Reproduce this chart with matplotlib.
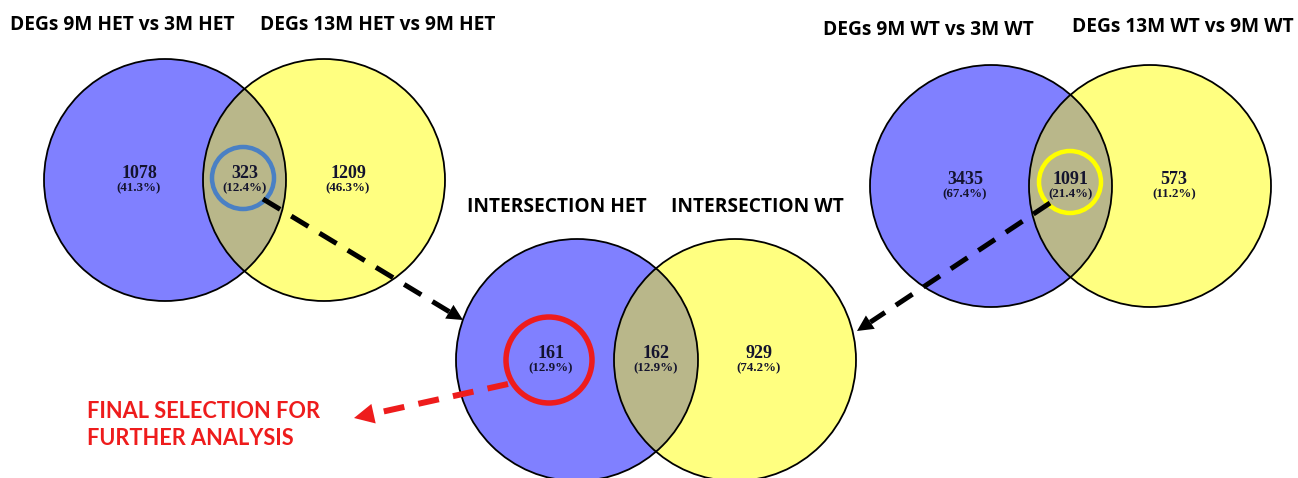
import numpy as np
import matplotlib
matplotlib.use("Agg")
import matplotlib.pyplot as plt
from matplotlib.patches import Circle, Polygon

# Venn data (counts and percentages)
het_titles = ["DEGs 9M HET vs 3M HET", "DEGs 13M HET vs 9M HET"]
het_counts = [1078, 323, 1209]
het_pcts = [41.3, 12.4, 46.3]

wt_titles = ["DEGs 9M WT vs 3M WT", "DEGs 13M WT vs 9M WT"]
wt_counts = [3435, 1091, 573]
wt_pcts = [67.4, 21.4, 11.2]

int_titles = ["INTERSECTION HET", "INTERSECTION WT"]
int_counts = [161, 162, 929]
int_pcts = [12.9, 12.9, 74.2]

final_label = "FINAL SELECTION FOR\nFURTHER ANALYSIS"

BLUE = "#8080ff"
YELLOW = "#ffff80"
OLIVE = "#b9b78a"
NUM_COLOR = "#14142e"
RED = "#ee1c1c"
PX = 0.72  # one pixel in points at dpi=100

fig = plt.figure(figsize=(12.98, 4.78), dpi=100)
ax = fig.add_axes([0, 0, 1, 1])
ax.set_xlim(0, 1298)
ax.set_ylim(478, 0)
ax.set_aspect("equal")
ax.axis("off")


def venn(cx_left, cx_right, cy, r, counts, pcts, titles, title_pos):
    left = Circle((cx_left, cy), r, facecolor=BLUE, edgecolor="none", zorder=1)
    right = Circle((cx_right, cy), r, facecolor=YELLOW, edgecolor="none", zorder=1)
    ax.add_patch(left)
    ax.add_patch(right)
    lens = Circle((cx_left, cy), r, facecolor=OLIVE, edgecolor="none", zorder=2)
    ax.add_patch(lens)
    lens.set_clip_path(Circle((cx_right, cy), r, transform=ax.transData))
    for cx in (cx_left, cx_right):
        ax.add_patch(Circle((cx, cy), r, facecolor="none", edgecolor="black",
                            lw=1.8 * PX, zorder=3))
    xs = [cx_left - 26, (cx_left + cx_right) / 2, cx_right + 24]
    for x, n, p in zip(xs, counts, pcts):
        ax.text(x, cy - 6, str(n), ha="center", va="center", fontsize=13,
                fontweight="bold", family="Liberation Serif", color=NUM_COLOR, zorder=5)
        ax.text(x, cy + 8, f"({p}%)", ha="center", va="center", fontsize=9.3,
                fontweight="bold", family="Liberation Serif", color=NUM_COLOR, zorder=5)
    for (tx, ty), t in zip(title_pos, titles):
        ax.text(tx, ty, t, ha="center", va="center", fontsize=13.8,
                fontweight="bold", family="Open Sans", color="black")


def dashed_arrow(p0, p1, color, lw, dash, head_len, head_w):
    p0 = np.array(p0, float)
    p1 = np.array(p1, float)
    d = (p1 - p0) / np.linalg.norm(p1 - p0)
    n = np.array([-d[1], d[0]])
    base = p1 - d * head_len
    ax.plot([p0[0], base[0]], [p0[1], base[1]], color=color, lw=lw * PX,
            linestyle=(0, dash), solid_capstyle="butt", dash_capstyle="butt", zorder=6)
    tri = [p1, base + n * head_w / 2, base - n * head_w / 2]
    ax.add_patch(Polygon(tri, closed=True, facecolor=color, edgecolor="none", zorder=6))


venn(165, 324, 180, 121, het_counts, het_pcts, het_titles, [(122, 25), (378, 25)])
venn(577, 735, 360, 121, int_counts, int_pcts, int_titles, [(557, 207), (757, 207)])
venn(991, 1150, 186, 121, wt_counts, wt_pcts, wt_titles, [(928, 30), (1183, 27)])

# highlight rings
ax.add_patch(Circle((243, 178), 31, facecolor="none", edgecolor="#4a80c4", lw=4.5 * PX, zorder=4))
ax.add_patch(Circle((1070, 182), 31, facecolor="none", edgecolor="#ffff00", lw=4.5 * PX, zorder=4))
ax.add_patch(Circle((549, 360), 43, facecolor="none", edgecolor=RED, lw=5.5 * PX, zorder=4))

# arrows
dashed_arrow((263, 199), (463, 320), "black", 5, (4, 2.6), 16, 16)
dashed_arrow((1050, 203), (857, 331), "black", 5, (4, 2.6), 16, 16)
dashed_arrow((508, 384), (354, 418), RED, 6, (3.5, 2.4), 20, 20)

ax.text(87, 425, final_label, ha="left", va="center", fontsize=15.7, fontweight="bold",
        family="Lato", color=RED, linespacing=1.35)

fig.savefig("out.png", dpi=100)
